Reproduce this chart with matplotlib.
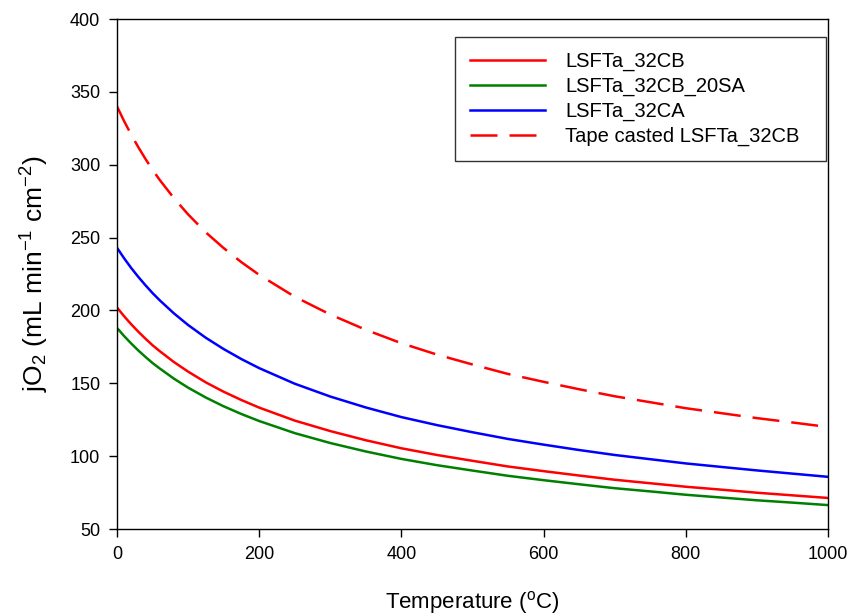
import matplotlib
matplotlib.use("Agg")
import matplotlib.pyplot as plt

plt.rcParams['font.family'] = ['Liberation Sans', 'DejaVu Sans']
plt.rcParams['mathtext.default'] = 'regular'

# Temperature grid (°C)
temperature = [0, 10, 20, 30, 40, 50, 60, 80, 100, 125, 150, 175, 200, 250, 300,
               350, 400, 450, 500, 550, 600, 650, 700, 750, 800, 850, 900, 950, 1000]

# Oxygen flux, mL min^-1 cm^-2
lsfta_32cb = [202, 196.0, 190.5, 185.4, 180.6, 176.1, 172.1, 164.6, 158.0, 150.6, 144.2,
              138.5, 133.3, 124.4, 117.2, 110.9, 105.4, 100.8, 96.8, 92.9, 89.7, 86.7,
              83.8, 81.4, 79.0, 77.0, 74.9, 73.1, 71.3]
lsfta_32cb_20sa = [188, 182.4, 177.3, 172.5, 168.1, 163.9, 160.2, 153.2, 147.0, 140.2, 134.2,
                   128.9, 124.1, 115.8, 109.0, 103.2, 98.1, 93.8, 90.1, 86.5, 83.5, 80.7,
                   78.0, 75.8, 73.5, 71.6, 69.7, 68.1, 66.4]
lsfta_32ca = [243, 235.8, 229.1, 223.0, 217.3, 211.9, 207.0, 198.0, 190.0, 181.2, 173.5,
              166.6, 160.4, 149.7, 140.9, 133.4, 126.8, 121.3, 116.4, 111.8, 107.9, 104.2,
              100.8, 97.9, 95.0, 92.6, 90.2, 88.0, 85.8]
tape_casted = [340, 329.9, 320.6, 312.0, 304.0, 296.5, 289.6, 277.1, 265.9, 253.5, 242.8,
               233.1, 224.4, 209.4, 197.2, 186.7, 177.5, 169.7, 162.9, 156.4, 151.0, 145.9,
               141.1, 137.0, 132.9, 129.5, 126.1, 123.1, 120.0]

series_labels = ["LSFTa_32CB", "LSFTa_32CB_20SA", "LSFTa_32CA", "Tape casted LSFTa_32CB"]
x_ticks = [0, 200, 400, 600, 800, 1000]
y_ticks = [50, 100, 150, 200, 250, 300, 350, 400]

fig = plt.figure(figsize=(8.51, 6.16), dpi=100)
ax = fig.add_axes([117 / 851, 1 - 529 / 616, (828 - 117) / 851, (529 - 19) / 616])

lw = 1.8
ax.plot(temperature, lsfta_32cb, color='#ff0000', lw=lw, label=series_labels[0])
ax.plot(temperature, lsfta_32cb_20sa, color='#008000', lw=lw, label=series_labels[1])
ax.plot(temperature, lsfta_32ca, color='#0000ff', lw=lw, label=series_labels[2])
ax.plot(temperature, tape_casted, color='#ff0000', lw=lw, dashes=(10.8, 4.8),
        dash_capstyle='butt', label=series_labels[3])

ax.set_xlim(0, 1000)
ax.set_ylim(50, 400)
ax.set_xticks(x_ticks)
ax.set_yticks(y_ticks)
ax.tick_params(direction='out', length=6, width=1, labelsize=13, pad=6)
for s in ax.spines.values():
    s.set_linewidth(1.0)

ax.set_xlabel("Temperature ($^{o}$C)", fontsize=16, labelpad=19)
ax.set_ylabel("jO$_2$ (mL min$^{-1}$ cm$^{-2}$)", fontsize=19, labelpad=14)

leg = ax.legend(loc='upper right', bbox_to_anchor=(826 / 851, 1 - 37 / 616),
                bbox_transform=fig.transFigure, fontsize=14.5, frameon=True,
                fancybox=False, edgecolor='black', handlelength=3.73,
                handletextpad=1.0, labelspacing=0.28, borderpad=0.75,
                borderaxespad=0)
leg.get_frame().set_linewidth(1.0)
# extra right-hand padding inside the legend box
leg._legend_box.sep = 0
leg.get_texts()[3].set_text(series_labels[3] + "  ")

fig.savefig("out.png", dpi=100)
